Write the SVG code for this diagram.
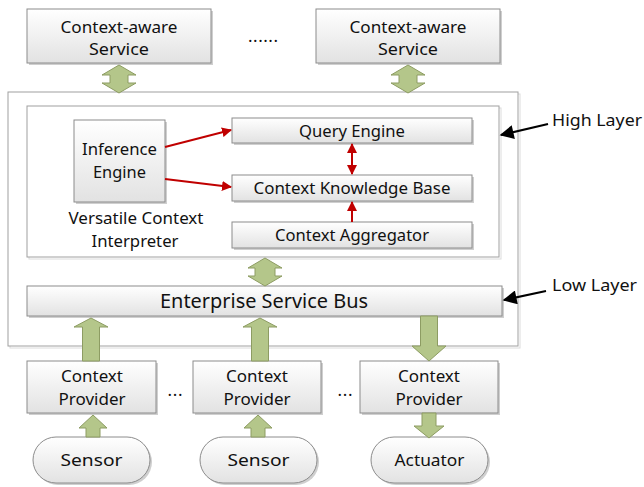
<svg xmlns="http://www.w3.org/2000/svg" width="644" height="487" viewBox="0 0 644 487">
  <defs>
    <linearGradient id="boxFill" x1="0" y1="0" x2="0" y2="1">
      <stop offset="0" stop-color="#ffffff"/>
      <stop offset="1" stop-color="#e2e2e2"/>
    </linearGradient>
    <marker id="redHead" viewBox="0 0 10 10" refX="9" refY="5" markerWidth="10" markerHeight="10" markerUnits="userSpaceOnUse" orient="auto-start-reverse">
      <path d="M0,0 L10,5 L0,10 Z" fill="#c00000"/>
    </marker>
    <marker id="blackHead" viewBox="0 0 10 10" refX="9" refY="5" markerWidth="16" markerHeight="14" markerUnits="userSpaceOnUse" orient="auto">
      <path d="M0,0 L10,5 L0,10 Z" fill="#000000"/>
    </marker>
  </defs>
  <style>
    .box { fill: url(#boxFill); stroke: #8c8c8c; stroke-width: 1; }
    .shadow { fill: #cfcfcf; }
    .frame { fill: #ffffff; stroke: #a0a0a0; stroke-width: 1; }
    .frameShadow { fill: none; stroke: #dcdcdc; stroke-width: 1; }
    .green { fill: #b4c68a; stroke: #8d9c63; stroke-width: 1; }
    .red { fill: none; stroke: #c00000; stroke-width: 2; }
    .black { fill: none; stroke: #000000; stroke-width: 2; }
    text { font-family: "Noto Sans", "Open Sans", sans-serif; font-size: 17px; fill: #111111; text-anchor: middle; }
    .big { font-size: 20.5px; }
    .side { text-anchor: start; }
  </style>

  <!-- layer frames -->
  <g id="outer-frame">
    <rect class="frameShadow" x="10" y="94" width="510" height="254"/>
    <rect class="frame" x="8" y="92" width="510" height="254"/>
  </g>
  <g id="interpreter">
    <rect class="frameShadow" x="29" y="108" width="472" height="151"/>
    <rect class="frame" x="27" y="106" width="472" height="151"/>
    <text x="136" y="224" textLength="135" lengthAdjust="spacingAndGlyphs">Versatile Context</text>
    <text x="135" y="247" textLength="87" lengthAdjust="spacingAndGlyphs">Interpreter</text>
  </g>

  <!-- top services -->
  <g id="service-1">
    <rect class="shadow" x="29" y="11" width="184" height="54"/>
    <rect class="box" x="27" y="9" width="184" height="54"/>
    <text x="119" y="33" textLength="117" lengthAdjust="spacingAndGlyphs">Context-aware</text>
    <text x="119" y="55" textLength="60" lengthAdjust="spacingAndGlyphs">Service</text>
  </g>
  <g id="service-dots">
    <text x="263" y="42" textLength="30">......</text>
  </g>
  <g id="service-2">
    <rect class="shadow" x="318" y="11" width="184" height="54"/>
    <rect class="box" x="316" y="9" width="184" height="54"/>
    <text x="408" y="33" textLength="117" lengthAdjust="spacingAndGlyphs">Context-aware</text>
    <text x="408" y="55" textLength="60" lengthAdjust="spacingAndGlyphs">Service</text>
  </g>

  <!-- interpreter parts -->
  <g id="inference-engine">
    <rect class="shadow" x="76" y="122" width="91" height="82"/>
    <rect class="box" x="74" y="120" width="91" height="82"/>
    <text x="119.5" y="155" textLength="75" lengthAdjust="spacingAndGlyphs">Inference</text>
    <text x="119.5" y="178" textLength="53" lengthAdjust="spacingAndGlyphs">Engine</text>
  </g>
  <g id="query-engine">
    <rect class="shadow" x="234" y="120" width="240" height="25"/>
    <rect class="box" x="232" y="118" width="240" height="25"/>
    <text x="352" y="137" textLength="106" lengthAdjust="spacingAndGlyphs">Query Engine</text>
  </g>
  <g id="knowledge-base">
    <rect class="shadow" x="234" y="177" width="240" height="26"/>
    <rect class="box" x="232" y="175" width="240" height="26"/>
    <text x="352" y="194" textLength="197" lengthAdjust="spacingAndGlyphs">Context Knowledge Base</text>
  </g>
  <g id="aggregator">
    <rect class="shadow" x="234" y="224" width="240" height="26"/>
    <rect class="box" x="232" y="222" width="240" height="26"/>
    <text x="352" y="241" textLength="154" lengthAdjust="spacingAndGlyphs">Context Aggregator</text>
  </g>

  <!-- bus -->
  <g id="service-bus">
    <rect class="shadow" x="29" y="288" width="475" height="30"/>
    <rect class="box" x="27" y="286" width="475" height="30"/>
    <text class="big" x="264" y="308" textLength="208" lengthAdjust="spacingAndGlyphs">Enterprise Service Bus</text>
  </g>

  <!-- providers -->
  <g id="provider-1">
    <rect class="shadow" x="29" y="363" width="129" height="52"/>
    <rect class="box" x="27" y="361" width="129" height="52"/>
    <text x="92" y="382" textLength="62" lengthAdjust="spacingAndGlyphs">Context</text>
    <text x="92" y="405" textLength="67" lengthAdjust="spacingAndGlyphs">Provider</text>
  </g>
  <g id="provider-dots-1">
    <text x="175" y="396" textLength="15">...</text>
  </g>
  <g id="provider-2">
    <rect class="shadow" x="195" y="363" width="128" height="52"/>
    <rect class="box" x="193" y="361" width="128" height="52"/>
    <text x="257" y="382" textLength="62" lengthAdjust="spacingAndGlyphs">Context</text>
    <text x="257" y="405" textLength="67" lengthAdjust="spacingAndGlyphs">Provider</text>
  </g>
  <g id="provider-dots-2">
    <text x="345" y="396" textLength="15">...</text>
  </g>
  <g id="provider-3">
    <rect class="shadow" x="362" y="363" width="138" height="52"/>
    <rect class="box" x="360" y="361" width="138" height="52"/>
    <text x="429" y="382" textLength="62" lengthAdjust="spacingAndGlyphs">Context</text>
    <text x="429" y="405" textLength="67" lengthAdjust="spacingAndGlyphs">Provider</text>
  </g>

  <!-- devices -->
  <g id="sensor-1">
    <rect class="shadow" x="35" y="439" width="117" height="46" rx="23"/>
    <rect class="box" x="33" y="437" width="117" height="46" rx="23"/>
    <text x="91.5" y="466" textLength="62" lengthAdjust="spacingAndGlyphs">Sensor</text>
  </g>
  <g id="sensor-2">
    <rect class="shadow" x="202" y="439" width="117" height="46" rx="23"/>
    <rect class="box" x="200" y="437" width="117" height="46" rx="23"/>
    <text x="258.5" y="466" textLength="62" lengthAdjust="spacingAndGlyphs">Sensor</text>
  </g>
  <g id="actuator">
    <rect class="shadow" x="373" y="439" width="117" height="46" rx="23"/>
    <rect class="box" x="371" y="437" width="117" height="46" rx="23"/>
    <text x="429.5" y="466" textLength="70" lengthAdjust="spacingAndGlyphs">Actuator</text>
  </g>

  <!-- layer labels -->
  <g id="high-layer-label">
    <text class="side" x="552" y="126" textLength="90" lengthAdjust="spacingAndGlyphs">High Layer</text>
  </g>
  <g id="low-layer-label">
    <text class="side" x="552" y="291" textLength="85" lengthAdjust="spacingAndGlyphs">Low Layer</text>
  </g>

  <!-- connectors -->
  <g id="connectors">
    <!-- block arrows -->
    <path class="green" d="M119,65 L136,75 L128,75 L128,83 L136,83 L119,93 L102,83 L110,83 L110,75 L102,75 Z"/>
    <path class="green" d="M408,65 L425,75 L417,75 L417,83 L425,83 L408,93 L391,83 L399,83 L399,75 L391,75 Z"/>
    <path class="green" d="M265,258 L282,268 L275,268 L275,276 L282,276 L265,286 L248,276 L255,276 L255,268 L248,268 Z"/>
    <path class="green" d="M91,318 L108,327 L99.5,327 L99.5,361 L82.5,361 L82.5,327 L74,327 Z"/>
    <path class="green" d="M260,318 L277,327 L268.5,327 L268.5,361 L251.5,361 L251.5,327 L243,327 Z"/>
    <path class="green" d="M420.5,316 L437.5,316 L437.5,346 L446,346 L429,361 L412,346 L420.5,346 Z"/>
    <path class="green" d="M93,415 L107,428 L100,428 L100,437 L86,437 L86,428 L79,428 Z"/>
    <path class="green" d="M258,415 L272,428 L265,428 L265,437 L251,437 L251,428 L244,428 Z"/>
    <path class="green" d="M422,413 L436,413 L436,426 L444,426 L429,438 L414,426 L422,426 Z"/>
    <!-- inference links -->
    <path class="red" d="M165,147 L231,130" marker-end="url(#redHead)"/>
    <path class="red" d="M165,179 L231,187" marker-end="url(#redHead)"/>
    <path class="red" d="M352,144 L352,174" marker-start="url(#redHead)" marker-end="url(#redHead)"/>
    <path class="red" d="M352,222 L352,202" marker-end="url(#redHead)"/>
    <!-- layer pointers -->
    <path class="black" d="M548,124 L501,135" marker-end="url(#blackHead)"/>
    <path class="black" d="M546,291 L504,300" marker-end="url(#blackHead)"/>
  </g>
</svg>
